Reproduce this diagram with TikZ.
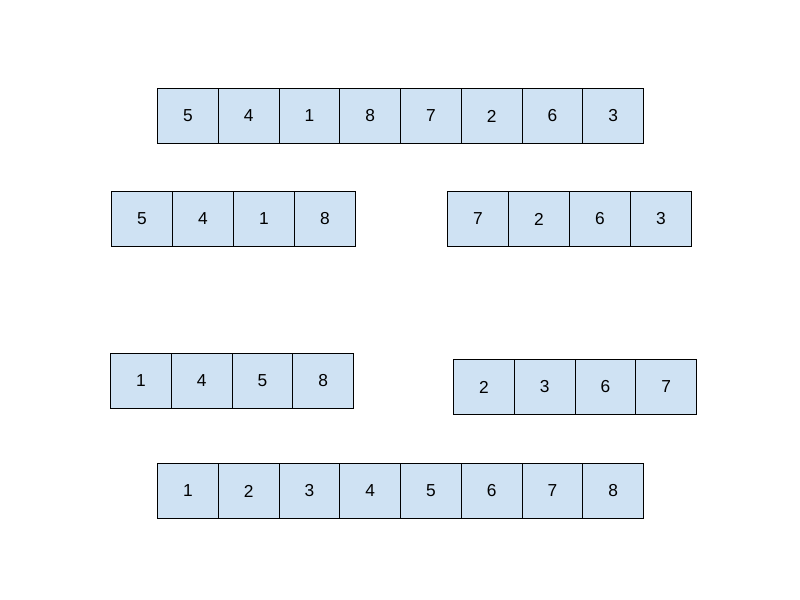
\documentclass[tikz,border=0pt]{standalone}
\usepackage{fontspec}
\setmainfont{Liberation Sans}
\definecolor{cellblue}{HTML}{CFE2F3}
\begin{document}
\begin{tikzpicture}[x=0.75pt,y=-0.75pt,
  cell/.style={draw=black,fill=cellblue,line width=0.75pt,minimum width=60.75*0.75pt,minimum height=55*0.75pt,inner sep=0pt,font=\fontsize{13}{15}\selectfont,anchor=north west}]
\useasboundingbox (0,0) rectangle (800,600);
% row 1
\foreach \v [count=\i from 0] in {5,4,1,8,7,2,6,3}
  \node[cell] (a\i) at (157+\i*60.75,88) {\v};
% row 2
\foreach \v [count=\i from 0] in {5,4,1,8}
  \node[cell] (b\i) at (111+\i*61,191) {\v};
\foreach \v [count=\i from 0] in {7,2,6,3}
  \node[cell] (c\i) at (447+\i*61,191) {\v};
% row 3
\foreach \v [count=\i from 0] in {1,4,5,8}
  \node[cell] (d\i) at (110+\i*60.75,353) {\v};
\foreach \v [count=\i from 0] in {2,3,6,7}
  \node[cell] (e\i) at (453+\i*60.75,359) {\v};
% row 4
\foreach \v [count=\i from 0] in {1,2,3,4,5,6,7,8}
  \node[cell] (f\i) at (157+\i*60.75,463) {\v};
\end{tikzpicture}
\end{document}
